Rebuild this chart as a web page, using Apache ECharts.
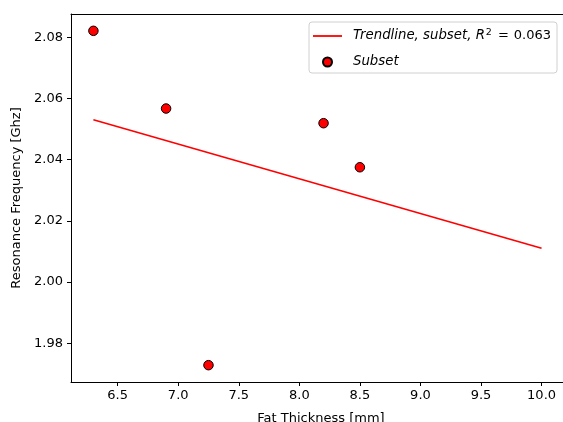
<!DOCTYPE html>
<html>
<head>
<meta charset="utf-8">
<script src="https://cdn.jsdelivr.net/npm/echarts@6/dist/echarts.min.js"></script>
<style>
html,body{margin:0;padding:0;background:#fff;}
#chart{width:563px;height:422px;}
</style>
</head>
<body>
<div id="chart"></div>
<script>
// Data
var subsetX = [6.3, 6.9, 7.25, 8.2, 8.5];
var subsetY = [2.0821, 2.0567, 1.9728, 2.0519, 2.0375];
var trendX = [6.3, 10.0];
var trendY = [2.0530, 2.0110];
var xTicks = [6.5, 7.0, 7.5, 8.0, 8.5, 9.0, 9.5, 10.0];
var yTicks = [1.98, 2.00, 2.02, 2.04, 2.06, 2.08];
var xName = 'Fat Thickness [mm]';
var yName = 'Resonance Frequency [Ghz]';
var trendName = 'Trendline, subset, R² = 0.063';
var subsetName = 'Subset';

var FONT = 'DejaVu Sans';
var FS = 13;
var X_MIN = 6.115, X_MAX = 10.243;
var chart = echarts.init(document.getElementById('chart'), null, {renderer: 'canvas'});

function pairs(xs, ys) { return xs.map(function (x, i) { return [x, ys[i]]; }); }

chart.setOption({
  animation: false,
  backgroundColor: '#fff',
  textStyle: {fontFamily: FONT},
  grid: {left: 71, top: 14, width: 500, height: 368, outerBoundsMode: 'none', containLabel: false, show: false},
  xAxis: [{
    type: 'value', min: X_MIN, max: X_MAX,
    name: xName, nameLocation: 'middle', nameGap: 30,
    nameTextStyle: {fontFamily: FONT, fontSize: FS, color: '#000'},
    axisLine: {show: true, onZero: false, lineStyle: {color: '#000', width: 1}},
    axisTick: {show: true, length: 4, lineStyle: {color: '#000', width: 1}, customValues: xTicks},
    axisLabel: {fontFamily: FONT, fontSize: FS, color: '#000', margin: 7, customValues: xTicks,
      formatter: function (v) { return v.toFixed(1); }},
    splitLine: {show: false}
  }, {
    type: 'value', min: X_MIN, max: X_MAX, position: 'top',
    axisLine: {show: true, onZero: false, lineStyle: {color: '#000', width: 1}},
    axisTick: {show: false}, axisLabel: {show: false}, splitLine: {show: false}
  }],
  yAxis: {
    type: 'value', min: 1.9673, max: 2.0876,
    name: yName, nameLocation: 'middle', nameGap: 47, nameRotate: 90,
    nameTextStyle: {fontFamily: FONT, fontSize: FS, color: '#000'},
    axisLine: {show: true, onZero: false, lineStyle: {color: '#000', width: 1}},
    axisTick: {show: true, length: 4, lineStyle: {color: '#000', width: 1}, customValues: yTicks},
    axisLabel: {fontFamily: FONT, fontSize: FS, color: '#000', margin: 8, customValues: yTicks,
      formatter: function (v) { return v.toFixed(2); }},
    splitLine: {show: false}
  },
  legend: {
    orient: 'vertical', left: 309, top: 22,
    padding: [6, 6, 3, 4],
    itemWidth: 29, itemHeight: 9, itemGap: 10,
    borderColor: '#d0d0d0', borderWidth: 1, borderRadius: 3,
    backgroundColor: 'rgba(255,255,255,0.8)',
    data: [
      {name: trendName, icon: 'path://M0,0L29,0L29,1.8L0,1.8Z', itemStyle: {color: '#ff0000'}},
      {name: subsetName, icon: 'circle'}
    ],
    formatter: function (name) {
      if (name === trendName) {
        return '{i|Trendline, subset, R}{sup|2}{eq|=}{n|0.063}';
      }
      return '{i|' + name + '}';
    },
    textStyle: {
      fontFamily: FONT, fontSize: FS, color: '#000', padding: [0, 0, 0, 6], lineHeight: 16,
      rich: {
        i: {fontFamily: FONT, fontSize: 13.3, fontStyle: 'italic', color: '#000', lineHeight: 16},
        sup: {fontFamily: FONT, fontSize: 9.5, color: '#000', verticalAlign: 'top', lineHeight: 10, padding: [0, 6, 0, 1]},
        eq: {fontFamily: FONT, fontSize: FS, color: '#000', lineHeight: 16, padding: [0, 5, 0, 0]},
        n: {fontFamily: FONT, fontSize: FS, color: '#000', lineHeight: 16}
      }
    }
  },
  series: [
    {
      name: trendName, type: 'line', data: pairs(trendX, trendY),
      showSymbol: false, symbol: 'none',
      lineStyle: {color: '#ff0000', width: 1.6},
      itemStyle: {color: '#ff0000'},
      z: 2
    },
    {
      name: subsetName, type: 'scatter', data: pairs(subsetX, subsetY),
      symbol: 'circle', symbolSize: 9.5,
      itemStyle: {color: '#ff0000', borderColor: '#000', borderWidth: 1, opacity: 1},
      z: 3
    }
  ]
});
</script>
</body>
</html>
